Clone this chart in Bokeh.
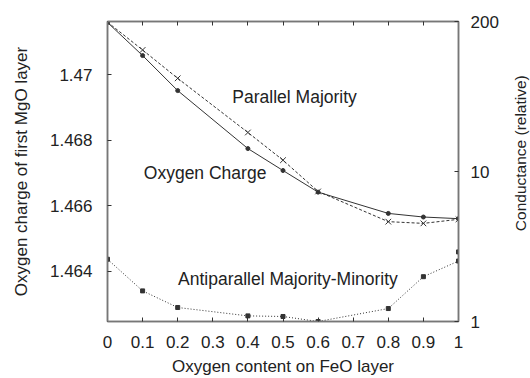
import math
from bokeh.plotting import figure
from bokeh.layouts import row
from bokeh.models import Range1d, LinearAxis, LogAxis, LogScale, FixedTicker, Label
from bokeh.embed import file_html
from bokeh.resources import INLINE

# ---- data ----
oxygen_content = [0, 0.1, 0.2, 0.4, 0.5, 0.6, 0.8, 0.9, 1.0]
oxygen_charge = [1.47159, 1.47058, 1.46951, 1.46774, 1.46707, 1.46641, 1.46576, 1.46565, 1.46560]
parallel_majority = [99.0, 64.6, 41.8, 18.2, 11.9, 7.36, 4.63, 4.51, 4.80]
antiparallel = [2.60, 1.60, 1.24, 1.09, 1.08, 1.0, 1.22, 1.99, 2.53]
antiparallel_extra_x = [1.0]
antiparallel_extra = [2.91]

x_ticks = [0, 0.1, 0.2, 0.3, 0.4, 0.5, 0.6, 0.7, 0.8, 0.9, 1]
x_tick_labels = ["0", "0.1", "0.2", "0.3", "0.4", "0.5", "0.6", "0.7", "0.8", "0.9", "1"]
left_ticks = [1.464, 1.466, 1.468, 1.47]
left_tick_labels = ["1.464", "1.466", "1.468", "1.47"]
right_ticks = [1, 10, 100]
right_tick_labels = ["1", "10", "200"]

FONT = "Liberation Sans"
TXT = "#222222"
AX = "#777777"
LINE = "#333333"

Y0, Y1 = 1.46246, 1.47162
p = figure(width=505, height=378, output_backend="svg", toolbar_location=None,
           x_range=Range1d(0, 1), y_range=Range1d(Y0, Y1),
           min_border_left=107, min_border_right=47, min_border_top=21, min_border_bottom=56)
p.extra_y_ranges = {"cond": Range1d(1, 100)}
p.extra_y_scales = {"cond": LogScale()}
p.grid.visible = False
p.outline_line_color = AX
p.outline_line_width = 1.5
p.background_fill_color = "white"
p.border_fill_color = "white"


def style(ax):
    ax.axis_line_color = AX
    ax.axis_line_width = 1.5
    ax.major_tick_in = 4
    ax.major_tick_out = 0
    ax.major_tick_line_color = "#333333"
    ax.minor_tick_line_color = None
    ax.major_label_text_font = FONT
    ax.major_label_text_font_size = "17px"
    ax.major_label_text_color = TXT
    ax.axis_label_text_font = FONT
    ax.axis_label_text_font_style = "normal"
    ax.axis_label_text_font_size = "17px"
    ax.axis_label_text_color = TXT


xb = p.xaxis[0]
xb.ticker = FixedTicker(ticks=x_ticks)
xb.major_label_overrides = dict(zip(x_ticks, x_tick_labels))
xb.axis_label = "Oxygen content on FeO layer"
style(xb)
xb.major_label_standoff = 14
xb.axis_label_standoff = 6

yl = p.yaxis[0]
yl.ticker = FixedTicker(ticks=left_ticks)
yl.major_label_overrides = dict(zip(left_ticks, left_tick_labels))
yl.axis_label = "Oxygen charge of first MgO layer"
style(yl)
yl.major_label_standoff = 15
yl.axis_label_standoff = 16

xt = LinearAxis(ticker=FixedTicker(ticks=x_ticks))
style(xt)
xt.major_label_text_color = None
xt.major_label_text_font_size = "1px"
xt.major_label_standoff = 0
p.add_layout(xt, "above")

yr = LogAxis(y_range_name="cond", ticker=FixedTicker(ticks=right_ticks))
yr.major_label_overrides = dict(zip(right_ticks, right_tick_labels))
style(yr)
yr.major_label_standoff = 12
p.add_layout(yr, "right")

# oxygen charge (left axis)
p.line(oxygen_content, oxygen_charge, line_color=LINE, line_width=1)
p.scatter(oxygen_content, oxygen_charge, marker="circle", size=4, color=LINE)

# parallel majority (right axis)
p.line(oxygen_content, parallel_majority, y_range_name="cond", line_color=LINE,
       line_width=1, line_dash="3 2")
p.scatter(oxygen_content, parallel_majority, y_range_name="cond", marker="x", size=8,
          line_color=LINE, line_width=1)

# antiparallel majority-minority (right axis)
p.line(oxygen_content, antiparallel, y_range_name="cond", line_color=LINE,
       line_width=1, line_dash="1 2")
p.scatter(oxygen_content, antiparallel, y_range_name="cond", marker="square", size=4,
          color=LINE)
p.scatter(antiparallel_extra_x, antiparallel_extra, y_range_name="cond", marker="square",
          size=4, color=LINE)

for txt, x, y in [("Parallel Majority", 0.533, 1.46930),
                  ("Oxygen Charge", 0.278, 1.46699),
                  ("Antiparallel Majority-Minority", 0.514, 1.46377)]:
    p.add_layout(Label(x=x, y=y, text=txt, text_align="center", text_baseline="middle",
                       text_font=FONT, text_font_size="17.5px", text_color=TXT))

# narrow strip on the right holding the right-axis title (reads bottom to top)
p2 = figure(width=25, height=378, output_backend="svg", toolbar_location=None,
            x_range=Range1d(0, 1), y_range=Range1d(0, 1),
            min_border_left=0, min_border_right=0, min_border_top=0, min_border_bottom=0,
            x_axis_type=None, y_axis_type=None)
p2.grid.visible = False
p2.outline_line_color = None
p2.border_fill_color = "white"
p2.add_layout(Label(x=0.58, y=0.561, text="Conductance (relative)", angle=math.pi / 2,
                    text_align="center", text_baseline="middle", text_font=FONT,
                    text_font_size="15.5px", text_color=TXT))

open("out.html", "w").write(file_html(row(p, p2), INLINE))
